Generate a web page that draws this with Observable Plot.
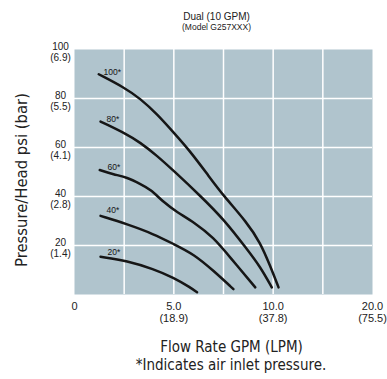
<!DOCTYPE html>
<html><head><meta charset="utf-8">
<script src="https://cdn.jsdelivr.net/npm/d3@7"></script>
<script src="https://cdn.jsdelivr.net/npm/@observablehq/plot@0.6"></script>
<style>body{margin:0;background:#fff}</style>
</head><body><div id="chart"></div>
<script>
const title = "Dual (10 GPM)";
const subtitle = "(Model G257XXX)";
const xTitle = "Flow Rate GPM (LPM)";
const note = "*Indicates air inlet pressure.";
const yTitle = "Pressure/Head psi (bar)";

const xTickValues = [0, 5, 10, 20];
const xTickLabels = ["0", "5.0\n(18.9)", "10.0\n(37.8)", "20.0\n(75.5)"];
const yTickValues = [100, 80, 60, 40, 20];
const yTickLabels = ["100\n(6.9)", "80\n(5.5)", "60\n(4.1)", "40\n(2.8)", "20\n(1.4)"];
const xGrid = [2.5, 5, 7.5, 10, 15];
const yGrid = [20, 40, 60, 80];

const seriesNames = ["100*", "80*", "60*", "40*", "20*"];
const gpm100 = [1.22, 2.48, 3.32, 4.16, 4.99, 5.83, 6.75, 7.50, 8.68, 9.35, 9.85, 10.54];
const psi100 = [89.9, 84.6, 79.9, 73.6, 66.1, 58.4, 48.4, 40.3, 29.4, 21.2, 11.7, 2.9];
const gpm80 = [1.31, 2.48, 3.32, 4.16, 4.99, 6.33, 7.50, 8.68, 9.35, 9.93];
const psi80 = [70.6, 66.1, 62.0, 56.6, 50.5, 40.3, 30.8, 18.5, 11.3, 2.9];
const gpm60 = [1.27, 1.97, 2.65, 3.32, 3.82, 4.49, 5.16, 6.0, 7.0, 7.84, 9.10];
const psi60 = [50.8, 49.0, 47.8, 45.1, 43.0, 37.6, 33.6, 29.6, 23.3, 15.1, 2.9];
const gpm40 = [1.31, 2.65, 3.98, 4.99, 6.0, 7.0, 8.0];
const psi40 = [32.1, 28.7, 24.7, 20.6, 16.5, 9.7, 2.2];
const gpm20 = [1.31, 2.65, 3.98, 4.99, 5.83, 6.17];
const psi20 = [15.4, 13.8, 10.4, 6.9, 2.9, 0.9];
const labelGpm = [1.46, 1.61, 1.66, 1.61, 1.66];
const labelPsi = [90.7, 71.7, 51.9, 34.2, 17.4];

const gpmSets = [gpm100, gpm80, gpm60, gpm40, gpm20];
const psiSets = [psi100, psi80, psi60, psi40, psi20];
const rows = [];
seriesNames.forEach((s, i) => gpmSets[i].forEach((g, j) => rows.push({series: s, gpm: g, psi: psiSets[i][j]})));
const labels = seriesNames.map((s, i) => ({series: s, gpm: labelGpm[i], psi: labelPsi[i]}));
const xTicks = xTickValues.map((v, i) => ({v, t: xTickLabels[i]}));
const yTicks = yTickValues.map((v, i) => ({v, t: yTickLabels[i]}));

const sans = "'Liberation Sans', Arial, Helvetica, sans-serif";
const narrow = "'Liberation Sans Narrow', 'DejaVu Sans Condensed', 'Roboto Condensed', sans-serif";

// the chart's x axis is compressed beyond 10 GPM (10 to 20 takes half the space of 0 to 10)
const compress = g => (g <= 10 ? g : 10 + (g - 10) / 2);

const chart = Plot.plot({
  width: 387, height: 379,
  marginLeft: 74, marginRight: 15, marginTop: 49, marginBottom: 85,
  x: {domain: [0, 15], transform: compress, axis: null},
  y: {domain: [0, 100], axis: null},
  style: {background: "white", fontFamily: sans, overflow: "visible"},
  marks: [
    Plot.frame({fill: "#b0c4cd", stroke: "none"}),
    Plot.ruleX(xGrid, {x: d => d, stroke: "white", strokeWidth: 1.5}),
    Plot.ruleY(yGrid, {stroke: "white", strokeWidth: 1.5}),
    Plot.line(rows, {x: "gpm", y: "psi", z: "series", stroke: "#161616", strokeWidth: 2.5, curve: "basis"}),
    Plot.text(labels, {x: "gpm", y: "psi", text: "series", textAnchor: "start", fontSize: 8.5, fill: "#161616"}),
    Plot.text(yTicks, {y: "v", text: "t", frameAnchor: "left", dx: -14, dy: 2.5, textAnchor: "middle", lineAnchor: "middle", lineHeight: 1.08, fontSize: 10, fill: "#222"}),
    Plot.text(xTicks, {x: "v", text: "t", frameAnchor: "bottom", dy: 7, textAnchor: "middle", lineAnchor: "top", lineHeight: 1.1, fontSize: 11, fill: "#222"}),
    Plot.text([title], {frameAnchor: "top", dx: -7, dy: -33, textAnchor: "middle", lineAnchor: "middle", fontSize: 10, fill: "#222"}),
    Plot.text([subtitle], {frameAnchor: "top", dx: -7, dy: -22.5, textAnchor: "middle", lineAnchor: "middle", fontSize: 8.5, fill: "#222"}),
    Plot.text([xTitle], {frameAnchor: "bottom", dx: 8, dy: 53, textAnchor: "middle", lineAnchor: "middle", fontSize: 15, fontFamily: narrow, fill: "#222"}),
    Plot.text([note], {frameAnchor: "bottom", dx: 7.5, dy: 70.5, textAnchor: "middle", lineAnchor: "middle", fontSize: 15, fontFamily: narrow, fill: "#222"}),
    Plot.text([yTitle], {frameAnchor: "left", dx: -53, dy: 8, rotate: -90, textAnchor: "middle", lineAnchor: "middle", fontSize: 16.5, fontFamily: narrow, fill: "#222"})
  ]
});
document.getElementById("chart").appendChild(chart);
</script>
</body></html>
